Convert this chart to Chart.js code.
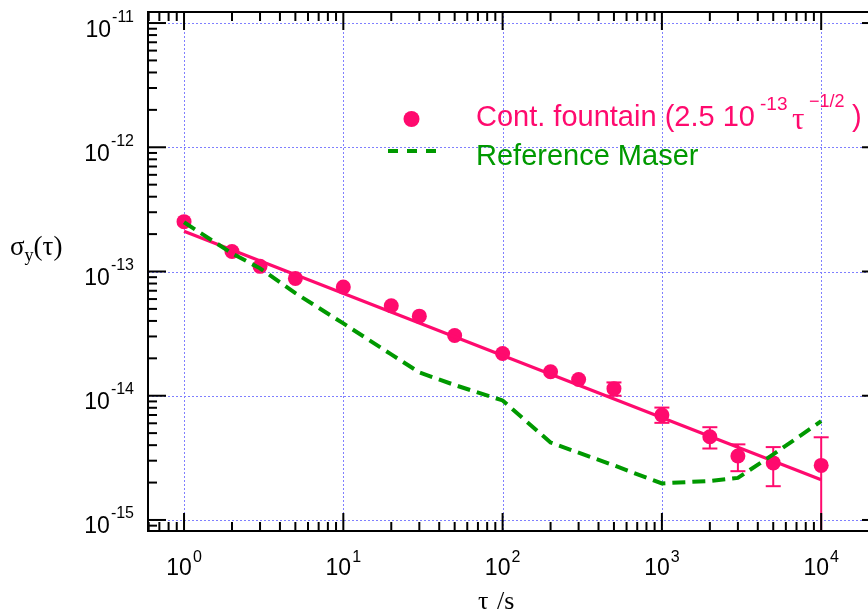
<!DOCTYPE html>
<html><head><meta charset="utf-8">
<script src="https://cdn.jsdelivr.net/npm/chart.js@4/dist/chart.umd.min.js"></script>
<style>
html,body{margin:0;padding:0;overflow:hidden;background:#fff;width:868px;height:612px}
#wrap{position:absolute;left:0;top:0;width:900px;height:612px}
</style>
</head><body><div id="wrap"><canvas id="c"></canvas></div>
<script>
// ---- data ----
const tau      = [1, 2, 3, 5, 10, 20, 30, 50, 100, 200, 300, 500, 1000, 2000, 3000, 5000, 10000];
const fountain = [2.52e-13, 1.45e-13, 1.10e-13, 8.8e-14, 7.5e-14, 5.3e-14, 4.37e-14, 3.05e-14, 2.19e-14,
                  1.56e-14, 1.35e-14, 1.14e-14, 7.0e-15, 4.67e-15, 3.27e-15, 2.88e-15, 2.75e-15];
const errHigh  = [null, null, null, null, null, null, null, null, null, null, null,
                  1.28e-14, 8.03e-15, 5.58e-15, 4.06e-15, 3.86e-15, 4.63e-15];
const errLow   = [null, null, null, null, null, null, null, null, null, null, null,
                  1.00e-14, 6.05e-15, 3.76e-15, 2.47e-15, 1.87e-15, 5.0e-16];
const fitTau    = [1, 10000];
const fitValues = [2.11e-13, 2.11e-15];
const maserTau = [1, 2, 3, 5, 10, 20, 30, 50, 100, 200, 500, 1000, 2000, 3000, 5000, 10000];
const maser    = [2.49e-13, 1.40e-13, 1.06e-13, 6.7e-14, 3.82e-14, 2.15e-14, 1.54e-14, 1.22e-14, 9.16e-15,
                  4.2e-15, 2.75e-15, 1.97e-15, 2.06e-15, 2.18e-15, 3.37e-15, 6.24e-15];
const xMajor = [1, 10, 100, 1000, 10000];
const xExp   = ['0', '1', '2', '3', '4'];
const yMajor = [1e-15, 1e-14, 1e-13, 1e-12, 1e-11];
const yExp   = ['-15', '-14', '-13', '-12', '-11'];
const legendFountain = ['Cont. fountain (2.5 10', '-13', '\u03c4', '\u22121/2', ')'];
const legendMaser = 'Reference Maser';
const xTitle = ['\u03c4', '/s'];
const yTitle = ['\u03c3', 'y', '(\u03c4)'];

const PINK = 'rgb(255,10,110)';
const GREEN = '#009900';
const SANS = '"Liberation Sans", Arial, sans-serif';
const SERIF = '"Liberation Serif", "Times New Roman", serif';

function minorValues(min, max) {
  const out = [];
  for (let d = -20; d <= 6; d++) {
    for (let m = 2; m <= 9; m++) {
      const v = m * Math.pow(10, d);
      if (v > min && v < max) out.push(v);
    }
  }
  return out;
}

const framePlugin = {
  id: 'frame',
  beforeDatasetsDraw(chart) {
    const { ctx, chartArea: a, scales: { x, y } } = chart;
    ctx.save();
    ctx.strokeStyle = '#7f7fff';
    ctx.lineWidth = 1;
    ctx.setLineDash([2, 2]);
    xMajor.forEach(v => {
      const px = Math.round(x.getPixelForValue(v)) + 0.5;
      ctx.beginPath(); ctx.moveTo(px, a.top); ctx.lineTo(px, a.bottom); ctx.stroke();
    });
    yMajor.forEach(v => {
      const py = Math.round(y.getPixelForValue(v)) + 0.5;
      ctx.beginPath(); ctx.moveTo(a.left, py); ctx.lineTo(a.right, py); ctx.stroke();
    });
    ctx.restore();

    // error bars
    ctx.save();
    ctx.beginPath(); ctx.rect(a.left, a.top, a.right - a.left, a.bottom - a.top); ctx.clip();
    ctx.strokeStyle = PINK; ctx.lineWidth = 2;
    tau.forEach((t, i) => {
      if (errHigh[i] == null) return;
      const px = x.getPixelForValue(t);
      const pt = y.getPixelForValue(errHigh[i]);
      const pb = y.getPixelForValue(errLow[i]);
      ctx.beginPath(); ctx.moveTo(px, pt); ctx.lineTo(px, pb); ctx.stroke();
      ctx.beginPath(); ctx.moveTo(px - 7.5, pt); ctx.lineTo(px + 7.5, pt); ctx.stroke();
      if (pb < a.bottom) { ctx.beginPath(); ctx.moveTo(px - 7.5, pb); ctx.lineTo(px + 7.5, pb); ctx.stroke(); }
    });
    ctx.restore();
  },
  afterDraw(chart) {
    const { ctx, chartArea: a, scales: { x, y } } = chart;
    ctx.save();
    ctx.strokeStyle = '#000'; ctx.lineWidth = 2; ctx.setLineDash([]);
    // frame
    ctx.beginPath();
    ctx.moveTo(a.left, a.top); ctx.lineTo(a.right, a.top); ctx.lineTo(a.right, a.bottom);
    ctx.lineTo(a.left, a.bottom); ctx.closePath(); ctx.stroke();
    const MAJ = 18, MIN = 9;
    const xs = xMajor.map(v => [v, MAJ]).concat(minorValues(x.min, x.max).map(v => [v, MIN]));
    xs.forEach(([v, L]) => {
      const px = x.getPixelForValue(v);
      ctx.beginPath(); ctx.moveTo(px, a.bottom); ctx.lineTo(px, a.bottom - L); ctx.stroke();
      ctx.beginPath(); ctx.moveTo(px, a.top); ctx.lineTo(px, a.top + L); ctx.stroke();
    });
    const ys = yMajor.map(v => [v, MAJ]).concat(minorValues(y.min, y.max).map(v => [v, MIN]));
    ys.forEach(([v, L]) => {
      const py = y.getPixelForValue(v);
      ctx.beginPath(); ctx.moveTo(a.left, py); ctx.lineTo(a.left + L, py); ctx.stroke();
      ctx.beginPath(); ctx.moveTo(a.right, py); ctx.lineTo(a.right - L, py); ctx.stroke();
    });

    // tick labels
    ctx.fillStyle = '#000';
    ctx.textBaseline = 'alphabetic';
    ctx.textAlign = 'left';
    const baseFont = '23px ' + SANS, expFont = '16px ' + SANS;
    xMajor.forEach((v, i) => {
      const px = x.getPixelForValue(v);
      ctx.font = baseFont; const w1 = ctx.measureText('10').width;
      ctx.font = expFont; const w2 = ctx.measureText(xExp[i]).width;
      const start = px - (w1 + 1 + w2) / 2;
      ctx.font = baseFont; ctx.fillText('10', start, 575);
      ctx.font = expFont; ctx.fillText(xExp[i], start + w1 + 1, 561.5);
    });
    yMajor.forEach((v, i) => {
      const py = y.getPixelForValue(v);
      ctx.font = baseFont; const w1 = ctx.measureText('10').width;
      ctx.font = expFont; const w2 = ctx.measureText(yExp[i]).width;
      const start = 134 - (w1 + 1 + w2);
      ctx.font = baseFont; ctx.fillText('10', start, py + 13.5);
      ctx.font = expFont; ctx.fillText(yExp[i], start + w1 + 1, py - 1.5);
    });

    // axis titles
    ctx.font = '26px ' + SERIF;
    ctx.fillText(xTitle[0], 478, 609);
    ctx.fillText(xTitle[1], 497, 609);
    ctx.font = '27px ' + SERIF;
    let cx = 10;
    ctx.fillText(yTitle[0], cx, 255); cx += ctx.measureText(yTitle[0]).width;
    ctx.font = '18px ' + SERIF;
    ctx.fillText(yTitle[1], cx, 261); cx += ctx.measureText(yTitle[1]).width;
    ctx.font = '27px ' + SERIF;
    ctx.fillText(yTitle[2], cx, 255);

    // legend
    ctx.fillStyle = PINK;
    ctx.beginPath(); ctx.arc(411.5, 119, 8, 0, Math.PI * 2); ctx.fill();
    ctx.font = '29px ' + SANS; ctx.fillText(legendFountain[0], 476, 126);
    ctx.font = '19px ' + SANS; ctx.fillText(legendFountain[1], 760, 110);
    ctx.font = '31px ' + SERIF; ctx.fillText(legendFountain[2], 792, 129);
    ctx.font = '18px ' + SANS; ctx.fillText(legendFountain[3], 809, 107);
    ctx.font = '29px ' + SANS; ctx.fillText(legendFountain[4], 852, 126);

    ctx.strokeStyle = GREEN; ctx.lineWidth = 4; ctx.setLineDash([10, 9]);
    ctx.beginPath(); ctx.moveTo(388, 151); ctx.lineTo(440, 151); ctx.stroke();
    ctx.setLineDash([]);
    ctx.fillStyle = GREEN;
    ctx.font = '29px ' + SANS; ctx.fillText(legendMaser, 476, 165);
    ctx.restore();
  }
};

new Chart(document.getElementById('c'), {
  type: 'scatter',
  data: {
    datasets: [
      {
        label: 'Reference Maser',
        data: maserTau.map((t, i) => ({ x: t, y: maser[i] })),
        showLine: true, borderColor: GREEN, borderWidth: 4, borderDash: [13, 7],
        pointRadius: 0, fill: false, tension: 0
      },
      {
        label: 'fit',
        data: fitTau.map((t, i) => ({ x: t, y: fitValues[i] })),
        showLine: true, borderColor: PINK, borderWidth: 3.2, pointRadius: 0, fill: false
      },
      {
        label: 'Cont. fountain',
        data: tau.map((t, i) => ({ x: t, y: fountain[i] })),
        showLine: false, pointRadius: 7.5, pointBackgroundColor: PINK, pointBorderWidth: 0,
        backgroundColor: PINK, borderColor: PINK
      }
    ]
  },
  options: {
    responsive: true, maintainAspectRatio: false, animation: false,
    layout: { padding: { left: 148, top: 12, right: 20, bottom: 81 } },
    plugins: { legend: { display: false }, tooltip: { enabled: false } },
    scales: {
      x: { type: 'logarithmic', min: 0.594, max: 23400, display: false },
      y: { type: 'logarithmic', min: 8.15e-16, max: 1.227e-11, display: false }
    }
  },
  plugins: [framePlugin]
});
</script>
</body></html>
